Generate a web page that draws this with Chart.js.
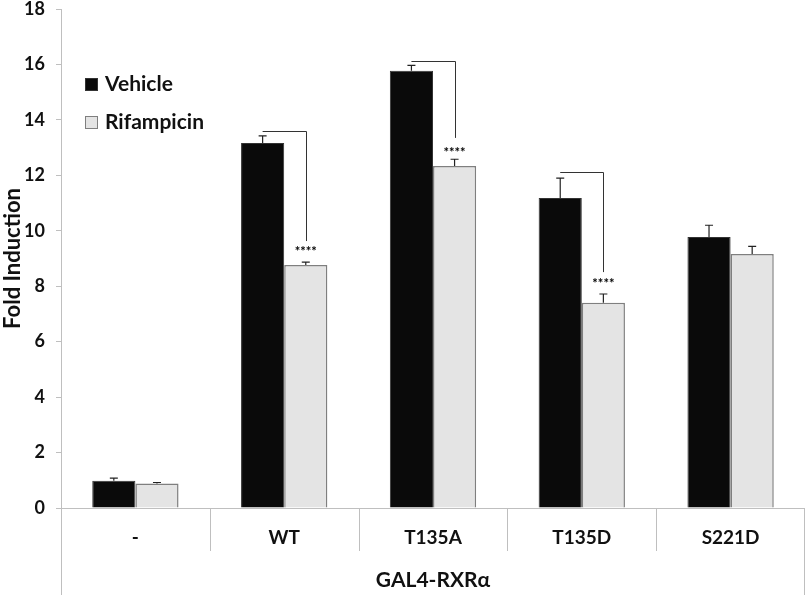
<!DOCTYPE html>
<html lang="en">
<head>
  <meta charset="UTF-8">
  <title>Fold Induction - GAL4-RXRα</title>
  <script src="https://cdn.jsdelivr.net/npm/chart.js"></script>
  <style>
    html, body { margin: 0; padding: 0; background: #fff; }
    #wrap { width: 809px; height: 595px; }
  </style>
</head>
<body>
  <div id="wrap"><canvas id="grafico" width="809" height="595"></canvas></div>

  <script>
    const categorias = ['-', 'WT', 'T135A', 'T135D', 'S221D'];
    const grupo = 'GAL4-RXRα';

    const vehicle = [0.98, 13.17, 15.77, 11.18, 9.78];
    const vehicleErr = [0.1, 0.25, 0.2, 0.72, 0.42];
    const rifampicin = [0.88, 8.77, 12.34, 7.4, 9.16];
    const rifampicinErr = [0.04, 0.1, 0.24, 0.32, 0.28];

    const yTicks = [0, 2, 4, 6, 8, 10, 12, 14, 16, 18];

    // brackets: category index, top of bracket, bottom of drop line, stars position
    const brCat = [1, 2, 3];
    const brTop = [13.6, 16.13, 12.12];
    const brDrop = [9.63, 13.35, 8.51];
    const brStars = [9.3, 12.88, 8.15];
    const brText = '****';

    const FONT = 'Lato, "Open Sans", sans-serif';

    const errPlugin = {
      id: 'errorBars',
      afterDatasetsDraw(chart) {
        const ctx = chart.ctx;
        const y = chart.scales.y;
        const errs = [vehicleErr, rifampicinErr];
        ctx.save();
        ctx.strokeStyle = '#222';
        ctx.lineWidth = 1.2;
        chart.data.datasets.forEach((ds, i) => {
          const meta = chart.getDatasetMeta(i);
          meta.data.forEach((bar, j) => {
            const top = y.getPixelForValue(ds.data[j] + errs[i][j]);
            ctx.beginPath();
            ctx.moveTo(bar.x, bar.y);
            ctx.lineTo(bar.x, top);
            ctx.moveTo(bar.x - 4, top);
            ctx.lineTo(bar.x + 4, top);
            ctx.stroke();
          });
        });

        // significance brackets
        ctx.strokeStyle = '#333';
        ctx.lineWidth = 1;
        brCat.forEach((c, k) => {
          const x1 = chart.getDatasetMeta(0).data[c].x;
          const x2 = chart.getDatasetMeta(1).data[c].x;
          const yt = y.getPixelForValue(brTop[k]);
          const yd = y.getPixelForValue(brDrop[k]);
          ctx.beginPath();
          ctx.moveTo(x1, Math.round(yt) + 0.5);
          ctx.lineTo(Math.round(x2) + 0.5, Math.round(yt) + 0.5);
          ctx.lineTo(Math.round(x2) + 0.5, yd);
          ctx.stroke();
          ctx.fillStyle = '#000';
          ctx.font = 'bold 13px ' + FONT;
          ctx.textAlign = 'center';
          ctx.textBaseline = 'middle';
          ctx.fillText(brText, x2, y.getPixelForValue(brStars[k]) + 2);
        });
        ctx.restore();
      }
    };

    const xAxisPlugin = {
      id: 'xAxisBoxes',
      afterDraw(chart) {
        const ctx = chart.ctx;
        const x = chart.scales.x;
        const area = chart.chartArea;
        const step = (area.right - area.left) / categorias.length;
        ctx.save();
        ctx.strokeStyle = '#bfbfbf';
        ctx.lineWidth = 1;
        ctx.beginPath();
        ctx.moveTo(area.left, area.bottom + 0.5);
        ctx.lineTo(area.right, area.bottom + 0.5);
        for (let i = 1; i < categorias.length; i++) {
          const px = Math.round(area.left + step * i) + 0.5;
          ctx.moveTo(px, area.bottom);
          ctx.lineTo(px, area.bottom + 43);
        }
        ctx.moveTo(Math.round(area.left) + 0.5, area.bottom);
        ctx.lineTo(Math.round(area.left) + 0.5, chart.height);
        ctx.moveTo(Math.round(area.right) - 0.5, area.bottom);
        ctx.lineTo(Math.round(area.right) - 0.5, chart.height);
        ctx.stroke();

        ctx.fillStyle = '#111';
        ctx.font = 'bold 19px ' + FONT;
        ctx.textAlign = 'center';
        ctx.textBaseline = 'middle';
        categorias.forEach((c, i) => {
          ctx.fillText(c, x.getPixelForValue(i), area.bottom + 30);
        });
        ctx.font = 'bold 21px ' + FONT;
        ctx.fillText(grupo, (area.left + area.right) / 2, area.bottom + 72);

        // legend
        ctx.textAlign = 'left';
        const items = chart.data.datasets;
        items.forEach((ds, i) => {
          const ly = 84 + i * 38;
          ctx.fillStyle = ds.backgroundColor;
          ctx.strokeStyle = ds.borderColor;
          ctx.lineWidth = 1;
          ctx.fillRect(85, ly - 6, 13, 13);
          ctx.strokeRect(85.5, ly - 5.5, 12, 12);
          ctx.fillStyle = '#111';
          ctx.font = 'bold 21px ' + FONT;
          ctx.fillText(ds.label, 105, ly);
        });
        ctx.restore();
      }
    };

    new Chart(document.getElementById('grafico'), {
      type: 'bar',
      data: {
        labels: categorias,
        datasets: [
          {
            label: 'Vehicle',
            data: vehicle,
            backgroundColor: '#0a0a0a',
            borderColor: '#333333',
            borderWidth: 1,
            categoryPercentage: 0.58,
            barPercentage: 1.0
          },
          {
            label: 'Rifampicin',
            data: rifampicin,
            backgroundColor: '#e4e4e4',
            borderColor: '#7f7f7f',
            borderWidth: 1.5,
            categoryPercentage: 0.58,
            barPercentage: 1.0
          }
        ]
      },
      options: {
        responsive: false,
        animation: false,
        layout: { padding: { top: 9, right: 4, bottom: 87, left: 0 } },
        plugins: {
          legend: { display: false },
          tooltip: { enabled: false }
        },
        scales: {
          x: { display: false },
          y: {
            min: 0,
            max: 18,
            afterFit(scale) {
              scale.width = 61;
              scale.paddingTop = 0;
              scale.paddingBottom = 0;
            },
            afterBuildTicks(scale) { scale.ticks = yTicks.map(v => ({ value: v })); },
            grid: { drawOnChartArea: false, color: '#bfbfbf', tickLength: 5 },
            border: { color: '#bfbfbf' },
            ticks: {
              color: '#111',
              padding: 11,
              font: { family: FONT, size: 18, weight: 'bold' }
            },
            title: {
              display: true,
              text: 'Fold Induction',
              color: '#111',
              padding: { top: 0, bottom: 0 },
              font: { family: FONT, size: 22, weight: 'bold' }
            }
          }
        }
      },
      plugins: [errPlugin, xAxisPlugin]
    });
  </script>
</body>
</html>
